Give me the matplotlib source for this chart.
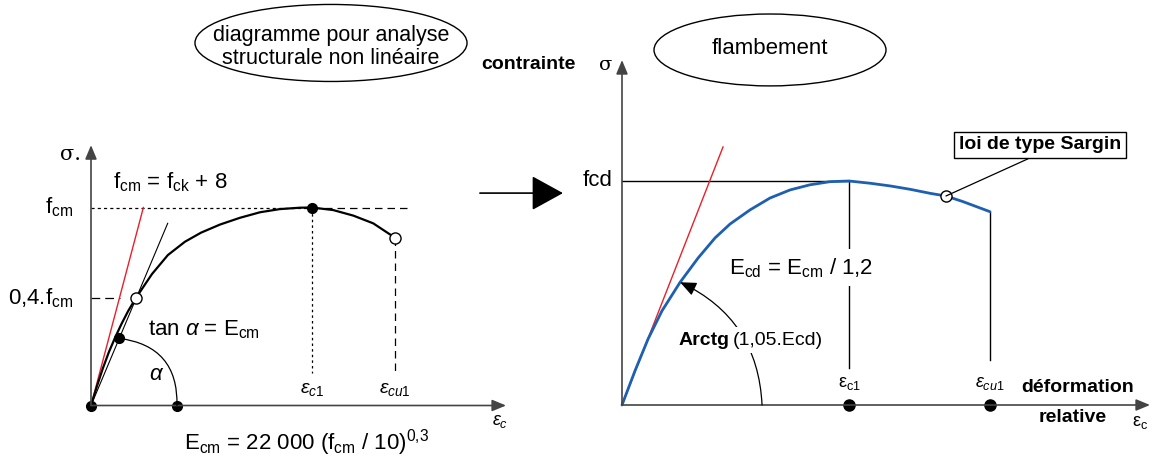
import matplotlib
matplotlib.use("Agg")
import matplotlib.pyplot as plt
from matplotlib.patches import Ellipse

plt.rcParams["font.family"] = ["Liberation Sans", "DejaVu Sans"]
plt.rcParams["mathtext.fontset"] = "custom"
plt.rcParams["mathtext.rm"] = "Liberation Sans"
plt.rcParams["mathtext.it"] = "Liberation Sans:italic"
plt.rcParams["mathtext.bf"] = "Liberation Sans:bold"

# ------------------------------------------------------------ données
# diagramme de gauche : eps / eps_c1, sigma / f_cm (schéma)
eps_nl = [0, 0.027, 0.054, 0.081, 0.109, 0.138, 0.168, 0.204, 0.235, 0.276,
          0.348, 0.425, 0.498, 0.584, 0.674, 0.765, 0.855, 0.946, 1.0,
          1.096, 1.187, 1.277, 1.376]
sig_nl = [0, 0.098, 0.189, 0.270, 0.343, 0.412, 0.477, 0.544, 0.596, 0.664,
          0.760, 0.827, 0.873, 0.914, 0.948, 0.976, 0.992, 0.999, 1.0,
          0.987, 0.959, 0.920, 0.847]
eps_c1_nl, eps_cu1_nl = 1.0, 1.376
eps_04, sig_04 = 0.204, 0.544    # point 0,4.fcm sur la courbe
tangente_nl = (0.237, 1.0)       # module tangent à l'origine (rouge)
secante_nl = (0.347, 0.920)      # module sécant Ecm
alpha_pts = [(0.128, 0.339), (0.389, 0.0)]

# diagramme de droite : eps / eps_c1, sigma / fcd (loi de Sargin)
eps_sg = [0, 0.057, 0.115, 0.176, 0.256, 0.335, 0.410, 0.476, 0.564, 0.652,
          0.740, 0.828, 0.916, 1.0, 1.093, 1.181, 1.269, 1.357, 1.427, 1.502, 1.621]
sig_sg = [0, 0.152, 0.295, 0.420, 0.548, 0.656, 0.746, 0.808, 0.871, 0.924,
          0.960, 0.983, 0.997, 1.0, 0.990, 0.978, 0.963, 0.945, 0.933, 0.908, 0.863]
eps_c1_sg, eps_cu1_sg = 1.0, 1.621
tangente_sg = (0.445, 1.152)
sargin_pt = (1.427, 0.933)

AXE = "#444444"
BLEU = "#1d5fb0"
ROUGE = "#e8202a"

fig = plt.figure(figsize=(11.57, 4.70), dpi=100)
W, H = 1157, 470


def panel(x0, x1, ox, oy, sx, sy):
    """Axes sans cadre : origine en (ox, oy) px, sx/sy px par unité."""
    ax = fig.add_axes([x0 / W, 0, (x1 - x0) / W, 1])
    ax.set_xlim((x0 - ox) / sx, (x1 - ox) / sx)
    ax.set_ylim((oy - H) / sy, oy / sy)
    ax.axis("off")
    ax.patch.set_alpha(0)
    return ax


def fleche(ax, x0, y0, x1, y1, **kw):
    ax.annotate("", xy=(x1, y1), xytext=(x0, y0), annotation_clip=False,
                arrowprops=dict(shrinkA=0, shrinkB=0, **kw))


# ------------------------------------------------------------ gauche
ax = panel(0, 540, 91, 405.5, 221, 198)
fleche(ax, 0, 0, 1.878, 0, arrowstyle="-|>,head_length=0.6,head_width=0.25",
       color=AXE, lw=1.2, mutation_scale=14)
fleche(ax, 0, 0, 0, 1.315, arrowstyle="-|>,head_length=0.6,head_width=0.25",
       color=AXE, lw=1.2, mutation_scale=14)

ax.plot([0, eps_c1_nl], [1, 1], color="k", lw=0.9, dashes=(2.5, 2.5))
ax.plot([eps_c1_nl, 1.452], [1, 1], color="k", lw=0.9, dashes=(6, 4))
ax.plot([eps_c1_nl, eps_c1_nl], [1, 0.166], color="k", lw=0.9, dashes=(2, 2.5))
ax.plot([eps_cu1_nl, eps_cu1_nl], [sig_nl[-1], 0.166], color="k", lw=0.9, dashes=(6, 4))
ax.plot([0, 0.131], [sig_04, sig_04], color="k", lw=0.9, dashes=(7, 4))

ax.plot([0, tangente_nl[0]], [0, tangente_nl[1]], color=ROUGE, lw=1.0)
ax.plot([0, secante_nl[0]], [0, secante_nl[1]], color="k", lw=0.8)
ax.plot(eps_nl, sig_nl, color="k", lw=1.6, solid_capstyle="round",
        solid_joinstyle="round")

ax.annotate("", xy=alpha_pts[1], xytext=alpha_pts[0],
            arrowprops=dict(arrowstyle="-", color="k", lw=0.9, shrinkA=0, shrinkB=0,
                            connectionstyle="arc3,rad=-0.45"))

pleins = [(0, 0), alpha_pts[0], alpha_pts[1], (eps_c1_nl, 1.0)]
ax.plot(*zip(*pleins), "o", color="k", ms=7, ls="none", clip_on=False)
ax.plot([eps_04, eps_cu1_nl], [sig_04, sig_nl[-1]], "o", mfc="white", mec="k",
        mew=1.0, ms=8, ls="none")

ax.text(-0.095, 1.268, "σ.", fontsize=15, ha="center", va="center", family="DejaVu Serif")
ax.text(-0.081, 1.0, "f$_{\\rm cm}$", fontsize=16, ha="right", va="center")
ax.text(-0.081, sig_04, "0,4.f$_{\\rm cm}$", fontsize=16, ha="right", va="center")
ax.text(0.10, 1.126, "f$_{\\rm cm}$ = f$_{\\rm ck}$ + 8", fontsize=16, ha="left", va="center")
ax.text(0.258, 0.382, "tan $\\alpha$ = E$_{\\rm cm}$", fontsize=16, ha="left", va="center")
ax.text(0.299, 0.156, "$\\alpha$", fontsize=16, ha="center", va="center")
ax.text(eps_c1_nl, 0.08, "$\\varepsilon_{c1}$", fontsize=14, ha="center", va="center")
ax.text(eps_cu1_nl, 0.08, "$\\varepsilon_{cu1}$", fontsize=14, ha="center", va="center")
ax.text(1.851, -0.080, "$\\varepsilon_c$", fontsize=13, ha="center", va="center")
ax.text(0.973, -0.189, "E$_{\\rm cm}$ = 22 000 (f$_{\\rm cm}$ / 10)$^{0{,}3}$",
        fontsize=16, ha="center", va="center")

ax.add_patch(Ellipse((1.086, 1.831), 1.231, 0.389, fill=False, lw=1.0, ec="k",
                     clip_on=False))
ax.text(1.086, 1.871, "diagramme pour analyse", fontsize=15.5, ha="center", va="center")
ax.text(1.086, 1.751, "structurale non linéaire", fontsize=15.5, ha="center", va="center")

# ------------------------------------------------------------ droite
ax = panel(460, 1157, 622, 405, 227, 224)
fleche(ax, 0, 0, 2.326, 0, arrowstyle="-|>,head_length=0.6,head_width=0.25",
       color=AXE, lw=1.2, mutation_scale=14)
fleche(ax, 0, 0, 0, 1.540, arrowstyle="-|>,head_length=0.6,head_width=0.25",
       color=AXE, lw=1.2, mutation_scale=14)
fleche(ax, -0.626, 0.946, -0.26, 0.946,
       arrowstyle="-|>,head_length=1.0,head_width=0.55", color="k", lw=1.2,
       mutation_scale=20)

ax.plot([0, eps_c1_sg], [1, 1], color="k", lw=1.0)
ax.plot([eps_c1_sg, eps_c1_sg], [1, 0.165], color="k", lw=1.0)
ax.plot([eps_cu1_sg, eps_cu1_sg], [sig_sg[-1], 0.20], color="k", lw=1.0)
ax.plot([0, tangente_sg[0]], [0, tangente_sg[1]], color=ROUGE, lw=1.0)
ax.plot(eps_sg, sig_sg, color=BLEU, lw=2.0, solid_capstyle="round",
        solid_joinstyle="round")

ax.annotate("", xy=(eps_sg[4], sig_sg[4]), xytext=(0.617, 0),
            arrowprops=dict(arrowstyle="-|>,head_length=0.7,head_width=0.3",
                            color="k", lw=0.9, shrinkA=0, shrinkB=0,
                            mutation_scale=14, connectionstyle="arc3,rad=0.3"))

ax.plot([eps_c1_sg, eps_cu1_sg], [0, 0], "o", color="k", ms=8, ls="none")

ax.annotate("loi de type Sargin", xy=sargin_pt, xytext=(1.841, 1.161),
            fontsize=14, fontweight="bold", ha="center", va="center",
            bbox=dict(boxstyle="square,pad=0.25", fc="white", ec="k", lw=1.0),
            arrowprops=dict(arrowstyle="-", color="k", lw=0.9, shrinkA=0, shrinkB=0,
                            relpos=(0.5, 0)))
ax.plot(*sargin_pt, "o", mfc="white", mec="k", mew=1.0, ms=8)

ax.text(-0.41, 1.518, "contrainte", fontsize=14, fontweight="bold", ha="center", va="center")
ax.text(-0.070, 1.518, "σ", fontsize=14, ha="center", va="center", family="DejaVu Serif")
ax.text(-0.044, 1.0, "fcd", fontsize=16, ha="right", va="center")
ax.add_patch(Ellipse((0.652, 1.585), 1.022, 0.321, fill=False, lw=1.0, ec="k",
                     clip_on=False))
ax.text(0.652, 1.59, "flambement", fontsize=16, ha="center", va="center")
ax.text(0.789, 0.612, "E$_{\\rm cd}$ = E$_{\\rm cm}$ / 1,2", fontsize=16,
        ha="center", va="center",
        bbox=dict(boxstyle="square,pad=0.3", fc="white", ec="none"))
ax.text(0.247, 0.29, "Arctg", fontsize=14, fontweight="bold", ha="left", va="center")
ax.text(0.489, 0.29, "(1,05.Ecd)", fontsize=14, ha="left", va="center",
        bbox=dict(boxstyle="square,pad=0.25", fc="white", ec="none"))
ax.text(eps_c1_sg, 0.098, "ε$_{\\rm c1}$", fontsize=13, ha="center", va="center")
ax.text(eps_cu1_sg, 0.098, "$\\varepsilon_{cu1}$", fontsize=13, ha="center", va="center")
ax.text(1.758, 0.080, "déformation", fontsize=14, fontweight="bold", ha="left", va="center")
ax.text(1.987, -0.058, "relative", fontsize=14, fontweight="bold", ha="center", va="center")
ax.text(2.282, -0.080, "ε$_{\\rm c}$", fontsize=13, ha="center", va="center")

fig.savefig("out.png", dpi=100)
